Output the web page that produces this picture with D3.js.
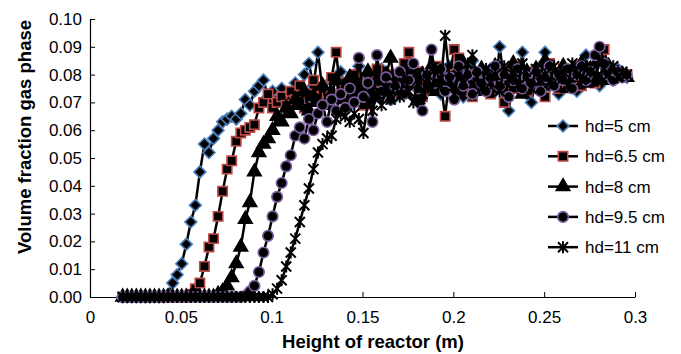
<!DOCTYPE html>
<meta charset="utf-8">
<style>
	body { margin: 0; background: #fff; }
	text { font-family: "Liberation Sans", Arial, sans-serif; fill: #000; }
	.axis path, .axis line { stroke: #000; }
	.axis text { font-size: 17px; }
	.title { font-size: 18.5px; font-weight: bold; }
	.legend text { font-size: 17px; }
</style>
<script src="https://d3js.org/d3.v7.min.js"></script>
<svg id="chart" width="681" height="354"></svg>
<script>

// sample positions along the reactor (m)
var heights = [
	0.018, 0.0205, 0.023, 0.0255, 0.028, 0.0305, 0.033, 0.0355, 0.038, 0.0405,
	0.043, 0.0455, 0.048, 0.0505, 0.053, 0.0555, 0.058, 0.0605, 0.063, 0.0655,
	0.068, 0.0705, 0.073, 0.0755, 0.078, 0.0805, 0.083, 0.0855, 0.088, 0.0905,
	0.093, 0.0955, 0.098, 0.1005, 0.103, 0.1055, 0.108, 0.1105, 0.113, 0.1155,
	0.118, 0.1205, 0.123, 0.1255, 0.128, 0.1305, 0.133, 0.1355, 0.138, 0.1405,
	0.143, 0.1455, 0.148, 0.1505, 0.153, 0.1555, 0.158, 0.1605, 0.163, 0.1655,
	0.168, 0.1705, 0.173, 0.1755, 0.178, 0.1805, 0.183, 0.1855, 0.188, 0.1905,
	0.193, 0.1955, 0.198, 0.2005, 0.203, 0.2055, 0.208, 0.2105, 0.213, 0.2155,
	0.218, 0.2205, 0.223, 0.2255, 0.228, 0.2305, 0.233, 0.2355, 0.238, 0.2405,
	0.243, 0.2455, 0.248, 0.2505, 0.253, 0.2555, 0.258, 0.2605, 0.263, 0.2655,
	0.268, 0.2705, 0.273, 0.2755, 0.278, 0.2805, 0.283, 0.2855, 0.288, 0.2905,
	0.293, 0.2955
];

var hd5 = [
	0, 0, 0, 0, 0, 0, 0, 0, 0, 0,
	0.001, 0.005, 0.008, 0.012, 0.019, 0.027, 0.033, 0.045, 0.055, 0.052,
	0.057, 0.060, 0.063, 0.064, 0.065, 0.064, 0.066, 0.071, 0.069, 0.074,
	0.076, 0.078, 0.072, 0.074, 0.070, 0.075, 0.069, 0.073, 0.077, 0.071,
	0.080, 0.084, 0.076, 0.088, 0.074, 0.070, 0.078, 0.072, 0.081, 0.075,
	0.069, 0.077, 0.083, 0.073, 0.079, 0.071, 0.076, 0.082, 0.074, 0.078,
	0.072, 0.080, 0.075, 0.084, 0.077, 0.070, 0.079, 0.074, 0.081, 0.076,
	0.073, 0.078, 0.083, 0.075, 0.080, 0.072, 0.077, 0.085, 0.074, 0.079,
	0.076, 0.082, 0.074, 0.090, 0.078, 0.067, 0.081, 0.075, 0.088, 0.073,
	0.070, 0.079, 0.083, 0.088, 0.076, 0.080, 0.073, 0.082, 0.077, 0.079,
	0.074, 0.081, 0.087, 0.078, 0.083, 0.076, 0.085, 0.080, 0.078, 0.082,
	0.080, 0.079
];

var hd65 = [
	0, 0, 0, 0, 0, 0, 0, 0, 0, 0,
	0, 0, 0, 0, 0, 0.001, 0.003, 0.005, 0.011, 0.018,
	0.021, 0.029, 0.038, 0.046, 0.049, 0.056, 0.059, 0.060, 0.061, 0.062,
	0.068, 0.070, 0.073, 0.068, 0.070, 0.072, 0.069, 0.074, 0.071, 0.076,
	0.068, 0.073, 0.078, 0.072, 0.075, 0.070, 0.079, 0.088, 0.073, 0.077,
	0.071, 0.080, 0.074, 0.069, 0.078, 0.075, 0.082, 0.073, 0.077, 0.080,
	0.074, 0.079, 0.084, 0.088, 0.076, 0.081, 0.072, 0.078, 0.075, 0.083,
	0.077, 0.065, 0.080, 0.089, 0.086, 0.074, 0.079, 0.072, 0.081, 0.076,
	0.079, 0.073, 0.082, 0.077, 0.070, 0.080, 0.075, 0.083, 0.078, 0.074,
	0.081, 0.076, 0.079, 0.072, 0.084, 0.078, 0.075, 0.082, 0.077, 0.080,
	0.083, 0.076, 0.079, 0.081, 0.077, 0.086, 0.089, 0.082, 0.079, 0.081,
	0.080, 0.080
];

var hd8 = [
	0, 0, 0, 0, 0, 0, 0, 0, 0, 0,
	0, 0, 0, 0, 0, 0, 0, 0, 0, 0,
	0, 0.001, 0.002, 0.004, 0.007, 0.012, 0.018, 0.028, 0.034, 0.045,
	0.052, 0.055, 0.057, 0.060, 0.065, 0.063, 0.068, 0.066, 0.071, 0.069,
	0.074, 0.067, 0.072, 0.070, 0.076, 0.069, 0.073, 0.078, 0.071, 0.075,
	0.079, 0.072, 0.076, 0.070, 0.081, 0.074, 0.078, 0.073, 0.080, 0.086,
	0.075, 0.079, 0.073, 0.082, 0.077, 0.071, 0.080, 0.076, 0.083, 0.074,
	0.078, 0.081, 0.075, 0.079, 0.073, 0.084, 0.077, 0.080, 0.074, 0.082,
	0.076, 0.079, 0.083, 0.075, 0.080, 0.077, 0.084, 0.078, 0.073, 0.081,
	0.077, 0.082, 0.079, 0.085, 0.076, 0.080, 0.078, 0.083, 0.075, 0.081,
	0.079, 0.084, 0.077, 0.082, 0.080, 0.085, 0.078, 0.083, 0.081, 0.079,
	0.080, 0.079
];

var hd95 = [
	0, 0, 0, 0, 0, 0, 0, 0, 0, 0,
	0, 0, 0, 0, 0, 0, 0, 0, 0, 0,
	0, 0, 0, 0, 0, 0, 0, 0.0005, 0.002, 0.004,
	0.009, 0.016, 0.022, 0.029, 0.036, 0.041, 0.047, 0.051, 0.058, 0.061,
	0.057, 0.064, 0.060, 0.066, 0.069, 0.063, 0.071, 0.067, 0.073, 0.068,
	0.075, 0.070, 0.086, 0.072, 0.077, 0.063, 0.087, 0.074, 0.079, 0.071,
	0.076, 0.081, 0.073, 0.078, 0.084, 0.075, 0.067, 0.080, 0.089, 0.077,
	0.082, 0.074, 0.079, 0.071, 0.083, 0.076, 0.080, 0.073, 0.081, 0.077,
	0.074, 0.079, 0.083, 0.076, 0.080, 0.072, 0.078, 0.082, 0.075, 0.079,
	0.077, 0.081, 0.074, 0.079, 0.083, 0.076, 0.080, 0.078, 0.082, 0.075,
	0.080, 0.083, 0.078, 0.081, 0.087, 0.090, 0.084, 0.080, 0.078, 0.081,
	0.079, 0.080
];

var hd11 = [
	0, 0, 0, 0, 0, 0, 0, 0, 0, 0,
	0, 0, 0, 0, 0, 0, 0, 0, 0, 0,
	0, 0, 0, 0, 0, 0, 0, 0, 0, 0,
	0, 0, 0, 0.001, 0.003, 0.006, 0.011, 0.016, 0.021, 0.027,
	0.033, 0.039, 0.046, 0.052, 0.055, 0.057, 0.058, 0.064, 0.066, 0.065,
	0.063, 0.066, 0.064, 0.059, 0.070, 0.067, 0.073, 0.069, 0.075, 0.071,
	0.077, 0.072, 0.079, 0.074, 0.070, 0.078, 0.073, 0.080, 0.075, 0.082,
	0.076, 0.094, 0.078, 0.073, 0.081, 0.077, 0.084, 0.087, 0.079, 0.075,
	0.082, 0.077, 0.080, 0.074, 0.083, 0.078, 0.081, 0.076, 0.084, 0.079,
	0.075, 0.082, 0.078, 0.080, 0.077, 0.083, 0.079, 0.081, 0.076, 0.084,
	0.080, 0.078, 0.083, 0.081, 0.079, 0.085, 0.082, 0.080, 0.083, 0.079,
	0.081, 0.080
];

var seriesNames = ["hd=5 cm", "hd=6.5 cm", "hd=8 cm", "hd=9.5 cm", "hd=11 cm"];
var seriesValues = [hd5, hd65, hd8, hd95, hd11];
var markerTypes = ["diamond", "square", "triangle", "circle", "star"];
var markerStrokes = ["#4a7ebb", "#be4b48", "#000000", "#7d60a0", "#000000"];

var xTicks = [0, 0.05, 0.1, 0.15, 0.2, 0.25, 0.3];
var yTicks = [0, 0.01, 0.02, 0.03, 0.04, 0.05, 0.06, 0.07, 0.08, 0.09, 0.1];

var svg = d3.select("#chart");

var x = d3.scaleLinear().domain([0, 0.3]).range([90, 635]);
var y = d3.scaleLinear().domain([0, 0.1]).range([297, 19]);

// axes
svg.append("g")
	.attr("class", "axis")
	.attr("transform", "translate(0,297)")
	.call(d3.axisBottom(x).tickValues(xTicks).tickSizeInner(-5).tickSizeOuter(0)
		.tickPadding(14).tickFormat(function(d) { return String(d); }));

svg.append("g")
	.attr("class", "axis")
	.attr("transform", "translate(90,0)")
	.call(d3.axisLeft(y).tickValues(yTicks).tickSizeInner(-5).tickSizeOuter(0)
		.tickPadding(8).tickFormat(d3.format(".2f")));

svg.selectAll(".axis .domain").attr("stroke-width", 1.2);

svg.append("text")
	.attr("class", "title")
	.attr("transform", "translate(25,137) rotate(-90)")
	.attr("text-anchor", "middle")
	.attr("dy", "0.35em")
	.text("Volume fraction gas phase");

svg.append("text")
	.attr("class", "title")
	.attr("x", 373)
	.attr("y", 348)
	.attr("text-anchor", "middle")
	.text("Height of reactor (m)");

function drawMarker(sel, type, stroke) {
	if (type == "star") {
		sel.append("path")
			.attr("d", "M-5,-5L5,5M-5,5L5,-5M0,-6L0,6")
			.attr("stroke", "#000")
			.attr("stroke-width", 2)
			.attr("fill", "none");
		return;
	}
	var sym = d3.symbol();
	if (type == "diamond") sym.type(d3.symbolSquare).size(70);
	if (type == "square") sym.type(d3.symbolSquare).size(88);
	if (type == "triangle") sym.type(d3.symbolTriangle).size(80);
	if (type == "circle") sym.type(d3.symbolCircle).size(88);
	sel.append("path")
		.attr("d", sym())
		.attr("transform", type == "diamond" ? "rotate(45)" : null)
		.attr("fill", "#000")
		.attr("stroke", stroke)
		.attr("stroke-width", 1.6);
}

var line = d3.line()
	.x(function(d) { return x(d[0]); })
	.y(function(d) { return y(d[1]); });

var plot = svg.append("g");

seriesValues.forEach(function(vals, s) {
	var pts = heights.map(function(h, i) { return [h, vals[i]]; });
	var g = plot.append("g");
	g.append("path")
		.datum(pts)
		.attr("d", line)
		.attr("fill", "none")
		.attr("stroke", "#000")
		.attr("stroke-width", 2.5);
	g.selectAll("g.pt").data(pts).enter().append("g")
		.attr("class", "pt")
		.attr("transform", function(d) { return "translate(" + x(d[0]) + "," + y(d[1]) + ")"; })
		.each(function() { drawMarker(d3.select(this), markerTypes[s], markerStrokes[s]); });
});

// legend
var legend = svg.append("g").attr("class", "legend");
var item = legend.selectAll("g").data(seriesNames).enter().append("g")
	.attr("transform", function(d, i) { return "translate(0," + (126 + i * 30.3) + ")"; });

item.append("line")
	.attr("x1", 548).attr("x2", 578)
	.attr("stroke", "#000")
	.attr("stroke-width", 2.5);

item.each(function(d, i) {
	var m = d3.select(this).append("g").attr("transform", "translate(563,0)");
	drawMarker(m, markerTypes[i], markerStrokes[i]);
});

item.append("text")
	.attr("x", 585)
	.attr("dy", "0.35em")
	.text(function(d) { return d; });

</script>
